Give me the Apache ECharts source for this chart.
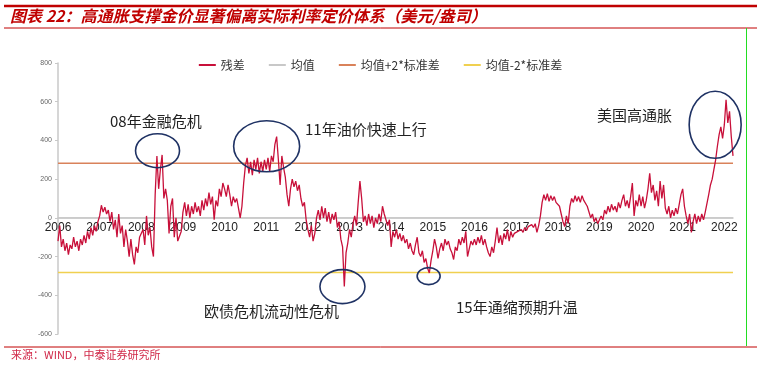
<!DOCTYPE html>
<html><head><meta charset="utf-8">
<script src="https://cdn.jsdelivr.net/npm/echarts@6/dist/echarts.min.js"></script>
<style>html,body{margin:0;padding:0;background:#fff}#c{width:761px;height:366px}</style>
</head><body><div id="c"></div>
<script>
const startYear = 2006;
const pointsPerYear = 24;
const residual2006 = [-120, -40, -150, -110, -170, -130, -190, -140, -160, -100, -150, -120, -170, -110, -140, -90, -130, -70, -110, -50, -90, -40, -70, -20];
const residual2007 = [10, 65, 30, 55, 20, 40, -20, 30, -60, -10, -100, 20, -80, -40, -150, -60, -120, -200, -110, -190, -240, -150, -180, -100];
const residual2008 = [-100, -60, -140, 10, -90, -50, -150, -200, 120, 320, 150, 250, 325, 100, 150, 90, -80, 60, 100, -100, 0, -120, -130, -70];
const residual2009 = [30, 80, 10, 70, 0, 60, 20, 80, 30, 60, 10, 90, 40, 100, 60, 130, 70, 110, -10, 90, 60, 150, 110, 180];
const residual2010 = [150, 110, 170, 120, 60, 110, 80, 100, 50, 0, 60, 180, 270, 310, 230, 290, 220, 300, 250, 310, 230, 290, 240, 300];
const residual2011 = [250, 310, 240, 320, 290, 380, 420, 300, 170, 320, 260, 210, 120, 60, 150, 200, 160, 190, 140, 170, 100, 60, 80, -10];
const residual2012 = [-60, -100, -40, -120, -80, 0, 40, -10, 60, 0, 50, -20, 30, -30, 20, -10, 30, -50, -20, -110, -150, -355, -180, -130];
const residual2013 = [-60, -100, -30, 10, -40, 80, 190, 100, -20, 10, -40, 20, -30, 10, -50, 0, -30, 20, -20, 60, 20, -10, -40, -10];
const residual2014 = [-150, -70, -100, -60, -110, -80, -120, -90, -130, -110, -160, -130, -170, -190, -140, -100, -180, -200, -170, -230, -210, -260, -285, -220];
const residual2015 = [-170, -110, -150, -210, -160, -130, -170, -110, -140, -120, -160, -180, -215, -150, -170, -110, -140, -100, -130, -70, -200, -160, -120, -140];
const residual2016 = [-110, -140, -100, -130, -90, -140, -110, -150, -180, -200, -150, -180, -120, -50, -130, -90, -140, -80, -110, -60, -120, -70, -100, -80];
const residual2017 = [-90, -70, -80, -60, -75, -50, -65, -45, -55, -35, -50, -30, -75, -40, 10, 80, 120, 90, 125, 85, 115, 90, 110, 80];
const residual2018 = [90, 60, 20, -20, -45, 10, -30, 60, 100, 80, 115, 85, 110, 80, 115, 90, 100, 60, 30, 0, 20, -20, 0, -30];
const residual2019 = [-20, 10, -10, 40, 20, 60, 30, 70, 40, 60, 30, 80, 50, 90, 120, 60, 90, 50, 110, 180, 10, 90, 60, 120];
const residual2020 = [60, 110, 50, 90, 150, 230, 130, 170, 90, 140, 60, 190, 100, 170, 50, 20, 60, 0, 40, 10, 50, 20, 70, 120];
const residual2021 = [150, 60, 10, -30, 20, -75, -20, 20, -30, 10, -20, 20, -10, 30, 30, 120, 170, 200, 250, 300, 370, 430, 470, 410];
const residual2022 = [480, 610, 490, 550, 420, 320];
const residualByYear = [residual2006, residual2007, residual2008, residual2009, residual2010, residual2011, residual2012, residual2013, residual2014, residual2015, residual2016, residual2017, residual2018, residual2019, residual2020, residual2021, residual2022];

const meanValue = 0;
const upperBand = 282;
const lowerBand = -282;
const seriesNames = ['残差', '均值', '均值+2*标准差', '均值-2*标准差'];
const yTicks = { min: -600, max: 800, step: 200 };

const titleText = '图表 22：高通胀支撑金价显著偏离实际利率定价体系（美元/盎司）';
const sourceText = '来源：WIND，中泰证券研究所';
const notes = [
  { text: '08年金融危机', left: 110, cy: 121 },
  { text: '11年油价快速上行', left: 305, cy: 129 },
  { text: '欧债危机流动性危机', left: 204, cy: 311 },
  { text: '15年通缩预期升温', left: 456, cy: 307 },
  { text: '美国高通胀', left: 597, cy: 115 }
];
// circled episodes: [year, value] centres, radii in px
const circles = [
  { at: [2008.39, 347], rx: 22, ry: 17 },
  { at: [2011.01, 370], rx: 33, ry: 25.5 },
  { at: [2012.83, -355], rx: 22.5, ry: 17 },
  { at: [2014.90, -301], rx: 11.5, ry: 8.5 },
  { at: [2021.78, 481], rx: 26, ry: 33.5 }
];

const xs = [];
const residual = [];
residualByYear.forEach((arr, k) => {
  arr.forEach((v, i) => {
    xs.push(startYear + k + i / pointsPerYear);
    residual.push(v);
  });
});
const resData = xs.map((x, i) => [x, residual[i]]);
const meanData = xs.map(x => [x, meanValue]);
const upData = xs.map(x => [x, upperBand]);
const lowData = xs.map(x => [x, lowerBand]);
const xMax = xs[xs.length - 1];

const grid = { left: 58, right: 28, top: 63, bottom: 32 };
const plotH = 366 - grid.top - grid.bottom;
// lift the x axis from the grid bottom up to the zero line
const zeroLift = -plotH * (0 - yTicks.min) / (yTicks.max - yTicks.min);

const chart = echarts.init(document.getElementById('c'));
const cjk = '"Noto Sans CJK SC", sans-serif';

const option = {
  backgroundColor: '#fff',
  animation: false,
  grid: grid,
  legend: {
    data: seriesNames,
    top: 54, left: 'center',
    itemWidth: 17, itemHeight: 2, itemGap: 24,
    icon: 'rect',
    textStyle: { fontSize: 12, color: '#333', fontFamily: cjk }
  },
  xAxis: {
    type: 'value', min: startYear, max: xMax, interval: 1,
    position: 'bottom', offset: zeroLift,
    axisLine: { onZero: false, lineStyle: { color: '#c8c8c8', width: 1.5 } },
    axisTick: { show: false },
    splitLine: { show: false },
    axisLabel: {
      margin: 4, fontSize: 12, color: '#222', fontFamily: '"Liberation Sans", Arial, sans-serif',
      showMaxLabel: false,
      formatter: v => Math.abs(v - Math.round(v)) < 1e-6 ? String(Math.round(v)) : ''
    }
  },
  yAxis: {
    type: 'value', min: yTicks.min, max: yTicks.max, interval: yTicks.step,
    axisLine: { show: true, onZero: false, lineStyle: { color: '#c8c8c8', width: 1.5 } },
    axisTick: { show: true, length: 3, lineStyle: { color: '#c8c8c8' } },
    splitLine: { show: false },
    axisLabel: { fontSize: 7, color: '#666', margin: 6, fontFamily: '"Liberation Sans", Arial, sans-serif' }
  },
  series: [
    { name: seriesNames[0], type: 'line', data: resData, showSymbol: false, symbol: 'none', z: 5,
      lineStyle: { color: '#C8103A', width: 1.3 }, itemStyle: { color: '#C8103A' } },
    { name: seriesNames[1], type: 'line', data: meanData, showSymbol: false, symbol: 'none', z: 2,
      lineStyle: { color: '#c8c8c8', width: 1.2 }, itemStyle: { color: '#c8c8c8' } },
    { name: seriesNames[2], type: 'line', data: upData, showSymbol: false, symbol: 'none', z: 3,
      lineStyle: { color: '#D9825A', width: 1.5 }, itemStyle: { color: '#D9825A' } },
    { name: seriesNames[3], type: 'line', data: lowData, showSymbol: false, symbol: 'none', z: 3,
      lineStyle: { color: '#F0D050', width: 1.5 }, itemStyle: { color: '#F0D050' } }
  ]
};
chart.setOption(option);

const g = [
  { type: 'line', shape: { x1: 4, y1: 6, x2: 757, y2: 6 }, style: { stroke: '#C00000', lineWidth: 2.5 } },
  { type: 'line', shape: { x1: 4, y1: 28, x2: 757, y2: 28 }, style: { stroke: '#C00000', lineWidth: 1 } },
  { type: 'line', shape: { x1: 4, y1: 347, x2: 757, y2: 347 }, style: { stroke: '#C00000', lineWidth: 1 } },
  { type: 'line', shape: { x1: 746.5, y1: 28, x2: 746.5, y2: 346 }, style: { stroke: '#22dd22', lineWidth: 1 } },
  { type: 'text', x: 10, y: 16, style: { text: titleText, fill: '#C00000', fontSize: 16, fontWeight: 'bold', fontStyle: 'italic', fontFamily: cjk, verticalAlign: 'middle' } },
  { type: 'text', x: 11, y: 355, style: { text: sourceText, fill: '#D02848', fontSize: 11, fontFamily: cjk, verticalAlign: 'middle' } }
];
notes.forEach(n => g.push({ type: 'text', x: n.left, y: n.cy, z: 10,
  style: { text: n.text, fill: '#222', fontSize: 15, fontFamily: cjk, verticalAlign: 'middle' } }));
circles.forEach(c => {
  const p = chart.convertToPixel({ gridIndex: 0 }, c.at);
  g.push({ type: 'ellipse', z: 10, shape: { cx: p[0], cy: p[1], rx: c.rx, ry: c.ry },
    style: { fill: 'none', stroke: '#1F3264', lineWidth: 1.6 } });
});
chart.setOption({ graphic: g });
</script></body></html>
